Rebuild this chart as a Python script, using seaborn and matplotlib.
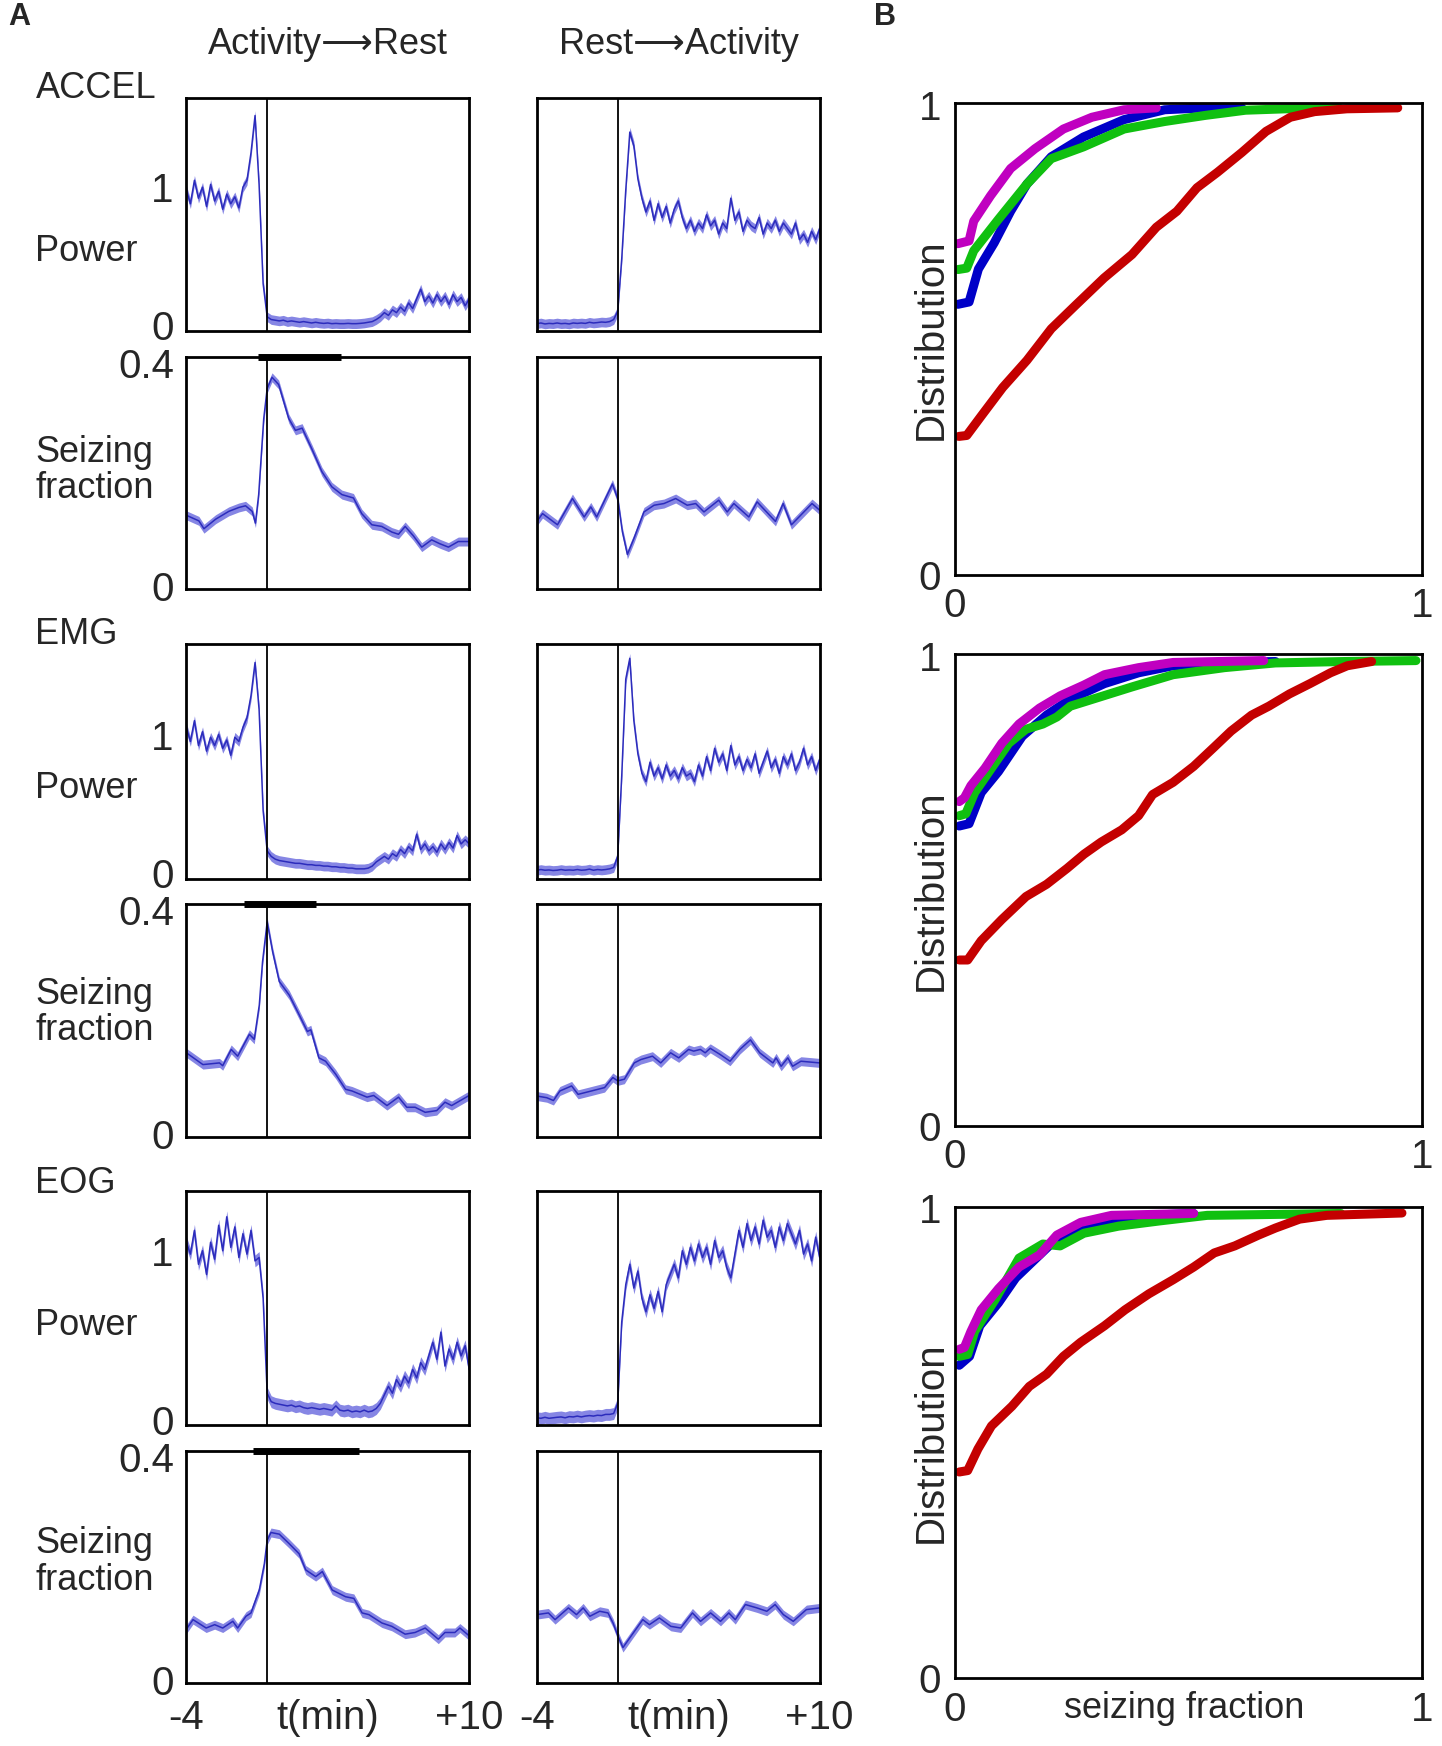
import numpy as np
import matplotlib
matplotlib.use("Agg")
import matplotlib.pyplot as plt
import seaborn as sns

# ---------------- data ----------------
# power traces, sampled every 0.2 min from -4 to +10 min
power_t = np.round(np.arange(-4, 10.001, 0.2), 1)

accel_ar_power = [0.98, 0.88, 1.05, 0.92, 1.00, 0.86, 1.02, 0.90, 0.97, 0.84,
                  0.95, 0.88, 0.93, 0.85, 1.00, 1.05, 1.25, 1.52, 1.02, 0.30,
                  0.06, 0.04, 0.035, 0.03, 0.035, 0.025, 0.03, 0.025, 0.02, 0.025,
                  0.02, 0.015, 0.02, 0.015, 0.012, 0.015, 0.01, 0.012, 0.01, 0.01,
                  0.012, 0.01, 0.01, 0.012, 0.015, 0.02, 0.025, 0.04, 0.06, 0.09,
                  0.07, 0.11, 0.09, 0.13, 0.10, 0.16, 0.12, 0.19, 0.26, 0.17,
                  0.21, 0.16, 0.22, 0.17, 0.21, 0.15, 0.22, 0.17, 0.20, 0.14,
                  0.19]
accel_ra_power = [0.010, 0.015, 0.008, 0.012, 0.010, 0.015, 0.010, 0.012, 0.008, 0.015,
                  0.012, 0.015, 0.012, 0.020, 0.015, 0.018, 0.022, 0.020, 0.025, 0.04,
                  0.10, 0.48, 0.98, 1.40, 1.30, 1.06, 0.92, 0.82, 0.90, 0.76,
                  0.88, 0.78, 0.86, 0.74, 0.84, 0.90, 0.78, 0.70, 0.76, 0.68,
                  0.74, 0.70, 0.80, 0.72, 0.76, 0.66, 0.74, 0.70, 0.92, 0.76,
                  0.82, 0.68, 0.76, 0.72, 0.70, 0.78, 0.66, 0.74, 0.70, 0.76,
                  0.68, 0.74, 0.70, 0.66, 0.74, 0.62, 0.66, 0.60, 0.68, 0.62,
                  0.70]
emg_ar_power = [1.05, 0.95, 1.10, 0.92, 1.02, 0.88, 0.98, 0.92, 1.00, 0.90,
                0.96, 0.85, 0.98, 0.95, 1.05, 1.12, 1.28, 1.52, 1.18, 0.45,
                0.16, 0.12, 0.10, 0.09, 0.085, 0.08, 0.075, 0.07, 0.07, 0.065,
                0.06, 0.06, 0.055, 0.055, 0.05, 0.05, 0.045, 0.045, 0.04, 0.04,
                0.035, 0.035, 0.03, 0.03, 0.03, 0.035, 0.05, 0.08, 0.10, 0.12,
                0.10, 0.14, 0.12, 0.17, 0.14, 0.19, 0.16, 0.28, 0.17, 0.21,
                0.16, 0.19, 0.15, 0.21, 0.17, 0.22, 0.18, 0.27, 0.21, 0.24,
                0.21]
emg_ra_power = [0.020, 0.025, 0.020, 0.022, 0.018, 0.020, 0.025, 0.020, 0.022, 0.020,
                0.025, 0.020, 0.022, 0.028, 0.020, 0.025, 0.022, 0.025, 0.030, 0.04,
                0.12, 0.70, 1.40, 1.55, 1.10, 0.86, 0.72, 0.66, 0.80, 0.70,
                0.76, 0.68, 0.78, 0.70, 0.74, 0.68, 0.76, 0.70, 0.72, 0.66,
                0.78, 0.70, 0.84, 0.74, 0.90, 0.80, 0.86, 0.74, 0.92, 0.78,
                0.84, 0.74, 0.82, 0.76, 0.86, 0.72, 0.80, 0.88, 0.76, 0.82,
                0.72, 0.84, 0.78, 0.86, 0.74, 0.80, 0.90, 0.78, 0.84, 0.74,
                0.82]
eog_ar_power = [1.05, 0.98, 1.12, 0.92, 1.00, 0.86, 1.05, 0.95, 1.15, 1.00,
                1.20, 1.02, 1.14, 0.96, 1.10, 0.98, 1.12, 0.94, 0.96, 0.72,
                0.16, 0.11, 0.10, 0.095, 0.09, 0.085, 0.09, 0.08, 0.085, 0.075,
                0.07, 0.075, 0.07, 0.065, 0.07, 0.065, 0.06, 0.085, 0.06, 0.055,
                0.06, 0.05, 0.055, 0.05, 0.06, 0.05, 0.055, 0.07, 0.10, 0.15,
                0.20, 0.16, 0.24, 0.20, 0.26, 0.22, 0.30, 0.25, 0.34, 0.30,
                0.38, 0.46, 0.36, 0.52, 0.32, 0.42, 0.36, 0.46, 0.38, 0.44,
                0.30]
eog_ra_power = [0.015, 0.012, 0.018, 0.012, 0.015, 0.018, 0.020, 0.015, 0.022, 0.020,
                0.025, 0.020, 0.025, 0.028, 0.025, 0.030, 0.028, 0.035, 0.035, 0.04,
                0.10, 0.58, 0.80, 0.92, 0.78, 0.88, 0.72, 0.64, 0.74, 0.66,
                0.76, 0.64, 0.80, 0.86, 0.92, 0.84, 1.00, 0.92, 1.02, 0.94,
                1.04, 0.96, 1.02, 0.92, 1.06, 0.96, 1.00, 0.90, 0.84, 0.98,
                1.12, 1.02, 1.16, 1.06, 1.14, 1.04, 1.18, 1.08, 1.12, 1.02,
                1.14, 1.06, 1.16, 1.10, 1.04, 1.12, 0.98, 1.04, 0.94, 1.08,
                0.96]

# seizing fraction traces (time in min, value)
accel_ar_seiz_t = [-4.0, -3.38, -3.13, -2.55, -1.9, -1.4, -1.07, -0.74, -0.58, -0.42,
                   -0.17, 0.0, 0.24, 0.57, 1.07, 1.4, 1.73, 2.22, 2.71, 3.2,
                   3.7, 4.27, 4.68, 5.18, 5.67, 6.17, 6.5, 6.83, 7.24, 7.65,
                   8.14, 8.55, 8.97, 9.46, 10.0]
accel_ar_seiz = [0.127, 0.117, 0.103, 0.120, 0.134, 0.141, 0.144, 0.134, 0.113, 0.164,
                 0.300, 0.354, 0.374, 0.361, 0.300, 0.279, 0.283, 0.245, 0.205, 0.178,
                 0.164, 0.158, 0.130, 0.110, 0.107, 0.097, 0.093, 0.107, 0.090, 0.070,
                 0.083, 0.076, 0.070, 0.080, 0.080]
accel_ra_seiz_t = [-4.0, -3.72, -2.98, -2.24, -1.66, -1.33, -1.04, -0.26, 0.0, 0.23,
                   0.48, 0.81, 1.30, 1.80, 2.29, 2.87, 3.44, 3.86, 4.27, 5.0,
                   5.42, 5.75, 6.49, 6.90, 7.81, 8.19, 8.6, 9.62, 10.0]
accel_ra_seiz = [0.116, 0.130, 0.110, 0.157, 0.124, 0.142, 0.124, 0.183, 0.157, 0.098,
                 0.057, 0.086, 0.133, 0.145, 0.148, 0.157, 0.145, 0.148, 0.133, 0.154,
                 0.133, 0.148, 0.124, 0.151, 0.116, 0.148, 0.110, 0.148, 0.136]
emg_ar_seiz_t = [-4.0, -3.18, -2.36, -2.2, -1.78, -1.46, -0.88, -0.64, -0.39, -0.23,
                 0.0, 0.27, 0.6, 1.09, 1.58, 1.99, 2.16, 2.56, 2.89, 3.39,
                 3.88, 4.2, 4.94, 5.27, 5.93, 6.5, 6.91, 7.32, 7.82, 8.39,
                 8.8, 9.13, 10.0]
emg_ar_seiz = [0.145, 0.124, 0.127, 0.122, 0.151, 0.139, 0.178, 0.169, 0.230, 0.307,
               0.378, 0.325, 0.272, 0.248, 0.213, 0.183, 0.186, 0.136, 0.130, 0.107,
               0.080, 0.077, 0.066, 0.069, 0.051, 0.066, 0.048, 0.048, 0.039, 0.042,
               0.057, 0.051, 0.069]
emg_ra_seiz_t = [-4.0, -3.51, -3.18, -2.86, -2.28, -1.96, -1.30, -0.65, -0.24, 0.0,
                 0.33, 0.82, 1.15, 1.72, 2.13, 2.62, 3.02, 3.51, 3.76, 4.09,
                 4.33, 4.58, 5.07, 5.56, 6.05, 6.57, 7.03, 7.68, 7.84, 8.09,
                 8.42, 8.66, 9.07, 10.0]
emg_ra_seiz = [0.068, 0.065, 0.060, 0.077, 0.086, 0.071, 0.077, 0.083, 0.101, 0.095,
               0.098, 0.127, 0.133, 0.139, 0.127, 0.145, 0.136, 0.151, 0.148, 0.151,
               0.145, 0.153, 0.142, 0.130, 0.151, 0.168, 0.145, 0.127, 0.136, 0.121,
               0.136, 0.121, 0.130, 0.127]
eog_ar_seiz_t = [-4.0, -3.67, -3.02, -2.6, -2.2, -1.7, -1.46, -1.05, -0.8, -0.39,
                 -0.14, 0.0, 0.19, 0.6, 1.09, 1.58, 1.91, 2.4, 2.73, 3.22,
                 3.88, 4.29, 4.7, 5.03, 5.68, 6.17, 6.83, 7.32, 7.82, 8.47,
                 8.8, 9.29, 9.54, 10.0]
eog_ar_seiz = [0.091, 0.108, 0.093, 0.099, 0.093, 0.105, 0.093, 0.114, 0.120, 0.161,
               0.208, 0.250, 0.264, 0.261, 0.244, 0.226, 0.197, 0.185, 0.194, 0.161,
               0.149, 0.146, 0.120, 0.117, 0.102, 0.096, 0.082, 0.085, 0.093, 0.073,
               0.085, 0.085, 0.093, 0.079]
eog_ra_seiz_t = [-4.0, -3.43, -3.1, -2.44, -2.04, -1.71, -1.38, -0.89, -0.48, -0.23,
                 0.01, 0.26, 0.67, 1.24, 1.57, 2.06, 2.63, 3.12, 3.70, 4.1,
                 4.6, 5.09, 5.5, 5.82, 6.32, 6.89, 7.38, 7.79, 8.2, 8.69,
                 9.34, 10.0]
eog_ra_seiz = [0.117, 0.120, 0.108, 0.129, 0.117, 0.129, 0.114, 0.123, 0.120, 0.102,
               0.079, 0.058, 0.079, 0.108, 0.099, 0.111, 0.096, 0.093, 0.120, 0.105,
               0.120, 0.105, 0.120, 0.108, 0.135, 0.129, 0.123, 0.135, 0.117, 0.105,
               0.126, 0.129]

# significant windows (min)
accel_sig = [-0.46, 3.63]
emg_sig = [-1.13, 2.41]
eog_sig = [-0.69, 4.55]

# panel B cumulative distributions
accel_blue_x = [0.006, 0.03, 0.05, 0.084, 0.119, 0.154, 0.206, 0.275, 0.362, 0.449, 0.536, 0.614]
accel_blue_y = [0.575, 0.58, 0.65, 0.706, 0.773, 0.831, 0.889, 0.931, 0.968, 0.989, 0.993, 0.993]
accel_magenta_x = [0.006, 0.03, 0.04, 0.076, 0.119, 0.171, 0.232, 0.293, 0.362, 0.431]
accel_magenta_y = [0.704, 0.71, 0.752, 0.806, 0.864, 0.906, 0.948, 0.973, 0.989, 0.993]
accel_green_x = [0.006, 0.025, 0.04, 0.093, 0.154, 0.206, 0.275, 0.362, 0.449, 0.536, 0.622, 0.709, 0.822]
accel_green_y = [0.649, 0.652, 0.689, 0.756, 0.831, 0.885, 0.910, 0.948, 0.964, 0.977, 0.988, 0.991, 0.993]
accel_red_x = [0.008, 0.025, 0.058, 0.102, 0.154, 0.206, 0.258, 0.319, 0.379, 0.431,
               0.475, 0.518, 0.562, 0.614, 0.666, 0.718, 0.77, 0.839, 0.948]
accel_red_y = [0.294, 0.296, 0.34, 0.398, 0.456, 0.523, 0.573, 0.631, 0.681, 0.739,
               0.773, 0.823, 0.856, 0.898, 0.943, 0.973, 0.985, 0.991, 0.993]

emg_blue_x = [0.009, 0.03, 0.056, 0.093, 0.144, 0.196, 0.247, 0.32, 0.393, 0.467, 0.577, 0.686]
emg_blue_y = [0.638, 0.643, 0.709, 0.754, 0.829, 0.874, 0.908, 0.941, 0.964, 0.979, 0.986, 0.988]
emg_magenta_x = [0.009, 0.02, 0.034, 0.064, 0.1, 0.137, 0.181, 0.225, 0.276, 0.32, 0.393, 0.467, 0.661]
emg_magenta_y = [0.69, 0.698, 0.724, 0.761, 0.814, 0.855, 0.889, 0.915, 0.938, 0.96, 0.975, 0.986, 0.99]
emg_green_x = [0.009, 0.023, 0.042, 0.078, 0.115, 0.152, 0.188, 0.218, 0.247, 0.305,
               0.379, 0.467, 0.577, 0.686, 0.833, 0.987]
emg_green_y = [0.66, 0.664, 0.709, 0.761, 0.814, 0.844, 0.855, 0.87, 0.893, 0.911,
               0.934, 0.96, 0.975, 0.985, 0.988, 0.99]
emg_red_x = [0.009, 0.027, 0.056, 0.1, 0.152, 0.196, 0.24, 0.276, 0.313, 0.357, 0.393, 0.423,
             0.467, 0.511, 0.555, 0.591, 0.635, 0.672, 0.716, 0.76, 0.804, 0.84, 0.892]
emg_red_y = [0.353, 0.353, 0.394, 0.439, 0.488, 0.514, 0.548, 0.578, 0.604, 0.63, 0.66, 0.705,
             0.731, 0.765, 0.806, 0.84, 0.874, 0.893, 0.919, 0.941, 0.964, 0.979, 0.988]

eog_blue_x = [0.009, 0.031, 0.053, 0.093, 0.13, 0.174, 0.218, 0.269, 0.335, 0.408, 0.511]
eog_blue_y = [0.666, 0.685, 0.75, 0.799, 0.852, 0.894, 0.936, 0.958, 0.973, 0.985, 0.989]
eog_magenta_x = [0.009, 0.02, 0.034, 0.056, 0.093, 0.137, 0.181, 0.218, 0.269, 0.335, 0.511]
eog_magenta_y = [0.70, 0.704, 0.738, 0.784, 0.829, 0.875, 0.901, 0.943, 0.97, 0.985, 0.989]
eog_green_x = [0.009, 0.027, 0.042, 0.086, 0.137, 0.188, 0.225, 0.276, 0.35, 0.437, 0.54, 0.686, 0.826]
eog_green_y = [0.685, 0.689, 0.738, 0.806, 0.894, 0.924, 0.92, 0.947, 0.962, 0.973, 0.985, 0.987, 0.989]
eog_red_x = [0.009, 0.027, 0.049, 0.078, 0.122, 0.159, 0.196, 0.232, 0.269, 0.32, 0.364,
             0.415, 0.467, 0.511, 0.555, 0.599, 0.65, 0.686, 0.738, 0.796, 0.957]
eog_red_y = [0.439, 0.442, 0.488, 0.537, 0.579, 0.621, 0.647, 0.685, 0.715, 0.75, 0.784,
             0.818, 0.848, 0.875, 0.905, 0.92, 0.943, 0.958, 0.977, 0.985, 0.99]

power_sem = 0.035
seiz_sem = 0.008

# ---------------- style ----------------
sns.set_style("white")
plt.rcParams["font.family"] = ["Liberation Sans", "DejaVu Sans"]

LINE = "#2c2cbc"
BAND = "#8686e4"
CDF_COLORS = {"blue": "#0000c8", "green": "#10c010", "magenta": "#c000c0", "red": "#c40000"}

W, H = 1300.0, 1574.0


def box(l, t, r, b):
    return [l / W, 1 - b / H, (r - l) / W, (b - t) / H]


def frame(ax):
    for s in ax.spines.values():
        s.set_linewidth(2.0)
        s.set_color("black")
    ax.tick_params(length=0, labelsize=29, pad=9)
    ax.grid(False)


def trace(ax, t, v, sem, ylim, yticks=None, ylabels=None, bottom=False, bar=None):
    t = np.asarray(t, dtype=float)
    v = np.asarray(v, dtype=float)
    ax.fill_between(t, v - sem, v + sem, color=BAND, lw=0)
    sns.lineplot(x=t, y=v, ax=ax, color=LINE, lw=1.1)
    ax.axvline(0, color="black", lw=1.3)
    ax.set_xlim(-4, 10)
    ax.set_ylim(*ylim)
    frame(ax)
    if yticks is None:
        ax.set_yticks([])
    else:
        ax.set_yticks(yticks)
        ax.set_yticklabels(ylabels)
    if bottom:
        ax.set_xticks([-4, 3, 10])
        ax.set_xticklabels(["-4", "t(min)", "+10"])
        ax.tick_params(axis="x", pad=12)
    else:
        ax.set_xticks([])
    ax.set_xlabel("")
    ax.set_ylabel("")
    if bar is not None:
        ax.plot(bar, [ylim[1], ylim[1]], color="black", lw=5, clip_on=False,
                solid_capstyle="butt")


fig = plt.figure(figsize=(14.42, 17.46), dpi=100)

P_LIM_AE = (-0.04, 1.65)
P_LIM_EOG = (-0.03, 1.35)
S_LIM = (-0.005, 0.41)

cols = [(168, 423), (484, 739)]
rows = [
    ((88, 298), (322, 531), P_LIM_AE, accel_ar_power, accel_ra_power,
     (accel_ar_seiz_t, accel_ar_seiz), (accel_ra_seiz_t, accel_ra_seiz), accel_sig),
    ((581, 792), (815, 1025), P_LIM_AE, emg_ar_power, emg_ra_power,
     (emg_ar_seiz_t, emg_ar_seiz), (emg_ra_seiz_t, emg_ra_seiz), emg_sig),
    ((1074, 1285), (1308, 1517), P_LIM_EOG, eog_ar_power, eog_ra_power,
     (eog_ar_seiz_t, eog_ar_seiz), (eog_ra_seiz_t, eog_ra_seiz), eog_sig),
]

for i, (prow, srow, plim, p_ar, p_ra, s_ar, s_ra, sig) in enumerate(rows):
    last = i == len(rows) - 1
    axp = fig.add_axes(box(cols[0][0], prow[0], cols[0][1], prow[1]))
    trace(axp, power_t, p_ar, power_sem, plim, [0, 1], ["0", "1"])
    axp = fig.add_axes(box(cols[1][0], prow[0], cols[1][1], prow[1]))
    trace(axp, power_t, p_ra, power_sem, plim)
    axs = fig.add_axes(box(cols[0][0], srow[0], cols[0][1], srow[1]))
    trace(axs, s_ar[0], s_ar[1], seiz_sem, S_LIM, [0, 0.4], ["0", "0.4"],
          bottom=last, bar=sig)
    axs = fig.add_axes(box(cols[1][0], srow[0], cols[1][1], srow[1]))
    trace(axs, s_ra[0], s_ra[1], seiz_sem, S_LIM, bottom=last)

# panel B
b_rows = [(93, 518), (590, 1015), (1088, 1513)]
b_data = [
    [(accel_blue_x, accel_blue_y, "blue"), (accel_green_x, accel_green_y, "green"),
     (accel_magenta_x, accel_magenta_y, "magenta"), (accel_red_x, accel_red_y, "red")],
    [(emg_blue_x, emg_blue_y, "blue"), (emg_green_x, emg_green_y, "green"),
     (emg_magenta_x, emg_magenta_y, "magenta"), (emg_red_x, emg_red_y, "red")],
    [(eog_blue_x, eog_blue_y, "blue"), (eog_green_x, eog_green_y, "green"),
     (eog_magenta_x, eog_magenta_y, "magenta"), (eog_red_x, eog_red_y, "red")],
]
for i, ((top, bot), curves) in enumerate(zip(b_rows, b_data)):
    ax = fig.add_axes(box(861, top, 1282, bot))
    for x, y, c in curves:
        sns.lineplot(x=x, y=y, ax=ax, color=CDF_COLORS[c], lw=6.5)
    ax.set_xlim(0, 1)
    ax.set_ylim(0, 1.003)
    frame(ax)
    ax.set_yticks([0, 1])
    ax.set_yticklabels(["0", "1"])
    ax.tick_params(axis="y", pad=10)
    ax.tick_params(axis="x", pad=9)
    if i == 2:
        ax.set_xticks([0, 0.49, 1])
        ax.set_xticklabels(["0", "seizing fraction", "1"])
        ax.get_xticklabels()[1].set_fontsize(26)
    else:
        ax.set_xticks([0, 1])
        ax.set_xticklabels(["0", "1"])
    ax.set_xlabel("")
    ax.set_ylabel("")
    ax.text(-0.053, 0.5, "Distribution", transform=ax.transAxes, rotation=90,
            ha="center", va="center", fontsize=29)

# labels
fig.text(0.006, 0.9905, "A", fontsize=22, fontweight="bold", ha="left", va="center")
fig.text(0.606, 0.9905, "B", fontsize=22, fontweight="bold", ha="left", va="center")
fig.text(296 / W, 1 - 40 / H, "Activity\u27f6Rest", fontsize=26, ha="center", va="center")
fig.text(612 / W, 1 - 40 / H, "Rest\u27f6Activity", fontsize=26, ha="center", va="center")

for name, ny, py, sy in [("ACCEL", 80, 227, 424), ("EMG", 572, 711, 913), ("EOG", 1067, 1195, 1408)]:
    fig.text(32 / W, 1 - ny / H, name, fontsize=26, ha="left", va="center")
    fig.text(32 / W, 1 - py / H, "Power", fontsize=26, ha="left", va="center")
    fig.text(32 / W, 1 - sy / H, "Seizing\nfraction", fontsize=26, ha="left",
             va="center", linespacing=1.05)

fig.savefig("out.png", dpi=100)
